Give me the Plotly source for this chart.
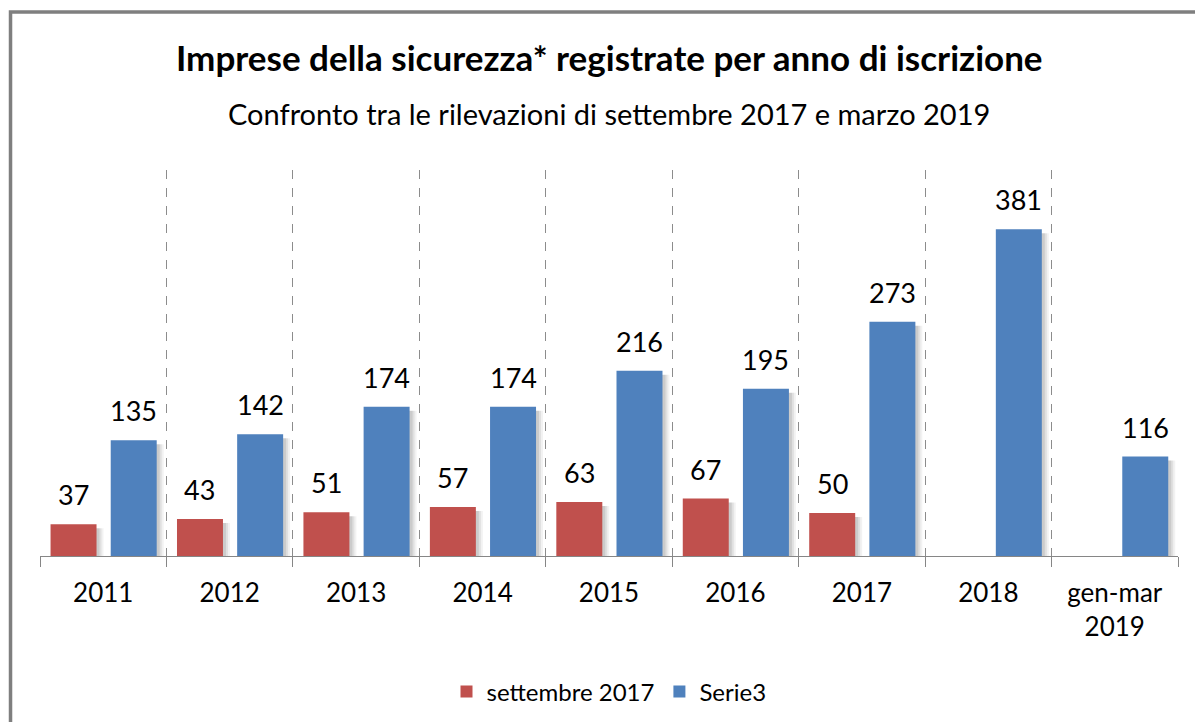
import plotly.graph_objects as go

# ---- data ----
categories = ["2011", "2012", "2013", "2014", "2015", "2016", "2017", "2018", "gen-mar<br>2019"]
settembre_2017 = [37, 43, 51, 57, 63, 67, 50, None, None]
serie3 = [135, 142, 174, 174, 216, 195, 273, 381, 116]
series_names = ["settembre 2017", "Serie3"]
series_colors = ["#C0504D", "#4F81BD"]
title_text = "Imprese della sicurezza* registrate per anno di iscrizione"
subtitle_text = "Confronto tra le rilevazioni di settembre 2017 e marzo 2019"

# ---- layout geometry ----
W, H = 1195, 722
L, R, T, B = 40, 16.5, 170, 166
Y_MAX = 450
FONT = "Lato, 'Open Sans', sans-serif"
plot_w = W - L - R
plot_h = H - T - B
cat_px = plot_w / len(categories)
px_per_unit = plot_h / Y_MAX

bar_w = 46 / cat_px
center_px = [-29.7, 30.5]

series_values = [settembre_2017, serie3]

fig = go.Figure()

# soft shadows
for vals, cpx in zip(series_values, center_px):
    c = cpx / cat_px
    for shift, alpha in [(7, 0.05), (5, 0.07), (3, 0.09)]:
        ys = [None if v is None else v - 4 / px_per_unit for v in vals]
        fig.add_bar(
            x=categories, y=ys, offset=c - bar_w / 2 + shift / cat_px, width=bar_w,
            marker=dict(color=f"rgba(0,0,0,{alpha})", line=dict(width=0)),
            showlegend=False, hoverinfo="skip",
        )

# bars
for vals, name, color, cpx in zip(series_values, series_names, series_colors, center_px):
    c = cpx / cat_px
    fig.add_bar(
        x=categories, y=vals, name=name, offset=c - bar_w / 2, width=bar_w,
        marker=dict(color=color, line=dict(width=0)),
    )

annotations = []
# data labels (x as category index)
for vals, cpx in zip(series_values, center_px):
    for i, v in enumerate(vals):
        if v is None:
            continue
        annotations.append(dict(
            x=i, y=v, xref="x", yref="y", text=str(v), showarrow=False,
            xshift=cpx, yshift=11, yanchor="bottom",
            font=dict(family=FONT, size=27, color="#000000"),
        ))

def py(p):
    return (H - B - p) / plot_h

def px(p):
    return (p - L) / plot_w

annotations.append(dict(
    x=0.5, y=py(57), xref="paper", yref="paper", text=f"<b>{title_text}</b>",
    showarrow=False, yanchor="middle", font=dict(family=FONT, size=35, color="#000000"),
))
annotations.append(dict(
    x=0.5, y=py(114), xref="paper", yref="paper", text=subtitle_text,
    showarrow=False, yanchor="middle", font=dict(family=FONT, size=29, color="#000000"),
))

fig.update_layout(
    width=W, height=H,
    margin=dict(l=L, r=R, t=T, b=B, autoexpand=False),
    paper_bgcolor="white", plot_bgcolor="white",
    barmode="overlay",
    font=dict(family=FONT, color="#000000"),
    showlegend=True,
    legend=dict(
        orientation="h", x=0.5, xanchor="center", y=py(692), yanchor="middle",
        font=dict(family=FONT, size=24, color="#000000"), itemwidth=30,
    ),
    annotations=annotations,
    shapes=[dict(
        type="rect", xref="paper", yref="paper",
        x0=px(10.5), x1=px(1205), y0=py(735), y1=py(12),
        line=dict(color="#7F7F7F", width=3.5), layer="above",
    )],
)

fig.update_xaxes(
    type="category", range=[-0.5, len(categories) - 0.5], tickson="boundaries",
    showgrid=True, gridcolor="#8C8C8C", gridwidth=1, griddash="dash",
    showline=True, linecolor="#868686", linewidth=1,
    ticks="outside", ticklen=10, tickcolor="#868686",
    tickfont=dict(family=FONT, size=26, color="#000000"),
    ticklabelstandoff=14, tickangle=0,
)
fig.update_yaxes(range=[0, Y_MAX], visible=False, showgrid=False, zeroline=False)

fig.write_html(
    "out.html",
    config={"displayModeBar": False},
    post_script="document.body.style.margin='0';document.body.style.overflow='hidden';",
)
